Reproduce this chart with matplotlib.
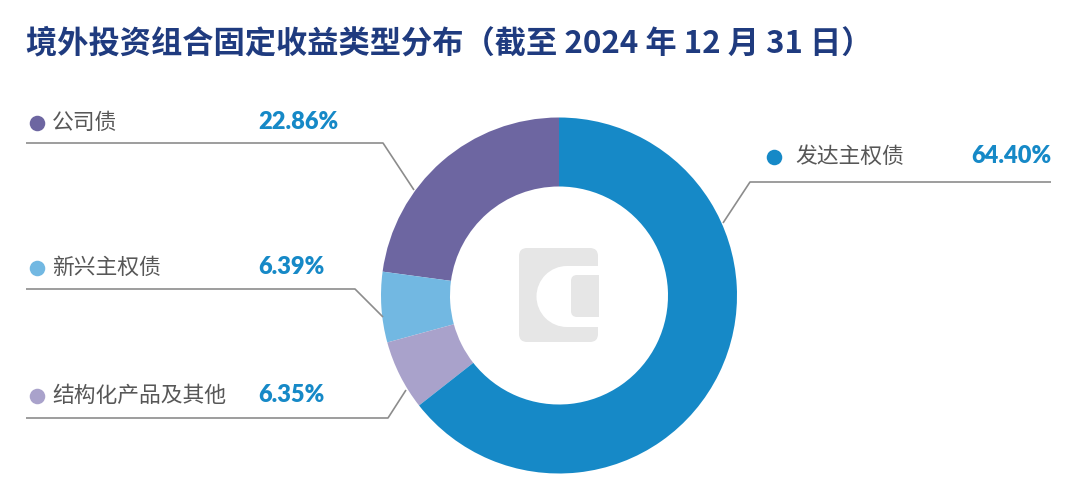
import matplotlib
matplotlib.use("Agg")
import matplotlib.pyplot as plt
from matplotlib.patches import FancyBboxPatch, Circle, Rectangle

W, H = 1080, 495

# data
categories = ["公司债", "新兴主权债", "结构化产品及其他", "发达主权债"]
shares = [22.86, 6.39, 6.35, 64.40]
share_labels = ["22.86%", "6.39%", "6.35%", "64.40%"]
colors = ["#6D66A1", "#72B8E2", "#A9A2CB", "#1689C7"]

title = "境外投资组合固定收益类型分布（截至 2024 年 12 月 31 日）"

plt.rcParams['font.family'] = ['Noto Sans CJK SC', 'DejaVu Sans']


def fy(y):
    # picture rows run downward, axes upward
    return H - y


fig = plt.figure(figsize=(W / 100, H / 100), dpi=100)
ax = fig.add_axes([0, 0, 1, 1])

cx, cy, R = 559, 295.5, 178
ax.pie(shares, colors=colors, startangle=90, counterclock=True,
       radius=R, center=(cx, fy(cy)),
       wedgeprops=dict(width=R - 109, linewidth=0))

# centre logo
gray = "#E6E6E6"
ax.add_patch(FancyBboxPatch((527, fy(342) + 8), 63, 78, boxstyle="round,pad=8",
                            fc=gray, ec="none", zorder=3))
ax.add_patch(Circle((567, fy(296.5)), 30.5, fc="white", ec="none", zorder=4))
ax.add_patch(Rectangle((567, fy(327)), 32, 61, fc="white", ec="none", zorder=4))
ax.add_patch(FancyBboxPatch((577, fy(317) + 6), 30, 30, boxstyle="round,pad=6",
                            fc=gray, ec="none", zorder=5))
ax.add_patch(Rectangle((598.5, fy(332)), 20, 72, fc="white", ec="none", zorder=6))

# leader lines
line_kw = dict(color="#8C8C8C", lw=1.2, solid_capstyle="butt", zorder=2)
leaders = [
    [(26, 143), (383, 143), (414, 190)],
    [(26, 289), (355, 289), (383, 317)],
    [(26, 418), (388, 418), (406, 390)],
    [(1051, 182), (750, 182), (723, 223)],
]
for pts in leaders:
    ax.plot([p[0] for p in pts], [fy(p[1]) for p in pts], **line_kw)

# labels
label_pos = [(37, 123), (37, 268), (37, 396), (774, 157)]
pct_x = [258, 258, 258, 1051]
for i, (bx, by) in enumerate(label_pos):
    ax.scatter([bx], [fy(by)], s=125, color=colors[i], linewidths=0, zorder=3)
    ax.text(bx + 15 if i < 3 else bx + 21, fy(by), categories[i], fontsize=15.7,
            color="#575757", ha="left", va="center")
    ax.text(pct_x[i], fy(by - 1), share_labels[i], fontsize=17,
            family="Lato", fontweight="heavy", color="#1689C7",
            ha="left" if i < 3 else "right", va="center")

ax.text(26, fy(43), title, fontsize=22.5, fontweight="bold", color="#1F3B7F",
        ha="left", va="center")

ax.set_xlim(0, W)
ax.set_ylim(0, H)
ax.axis("off")

fig.savefig("out.png", dpi=100)
